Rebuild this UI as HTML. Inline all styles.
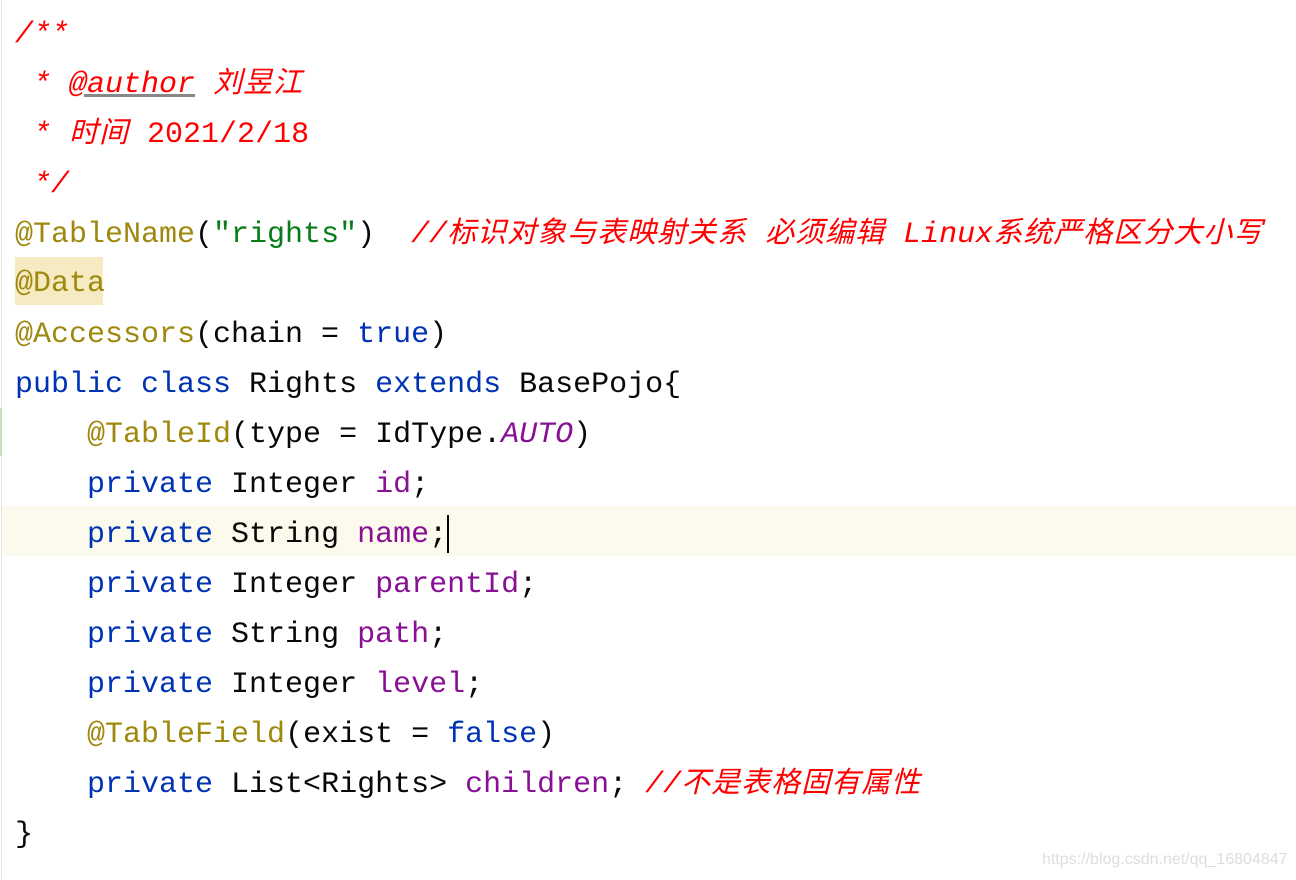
<!DOCTYPE html>
<html><head><meta charset="utf-8"><style>
html,body{margin:0;padding:0;background:#fff;width:1296px;height:880px;overflow:hidden;position:relative}
.l{position:absolute;left:15px;height:50px;line-height:50px;font-family:"Liberation Mono","Noto Sans CJK SC",monospace;font-size:30px;white-space:pre;color:#080808}
.c{color:#f00;font-style:italic}
.cn{font-family:"Noto Sans CJK SC",sans-serif;font-size:29px;letter-spacing:1px;line-height:0}
.a{color:#9e880d}
.s{color:#067d17}
.k{color:#0033b3}
.f{color:#871094}
.hl{position:absolute;left:2px;top:506px;width:1294px;height:50px;background:#fcfaed}
.gut{position:absolute;left:1px;top:0;width:1px;height:880px;background:#e4e4e4}
</style></head><body>
<div class="gut"></div>
<div class="hl"></div>
<div style="position:absolute;left:0;top:408px;width:2px;height:48px;background:#c9dfc4"></div>
<div style="position:absolute;left:15px;top:257px;width:88px;height:48px;background:#f5eac1"></div>
<div class="l c" style="top:10px">/**</div>
<div class="l c" style="top:60px"> * <span style="text-decoration:underline;text-decoration-color:#888">@author</span> <span class="cn">刘昱江</span></div>
<div class="l c" style="top:110px"> * <span class="cn">时间</span> <span style="font-style:normal">2021/2/18</span></div>
<div class="l c" style="top:160px"> */</div>
<div class="l" style="top:210px"><span class="a">@TableName</span>(<span class="s">"rights"</span>)  <span class="c">//<span class="cn">标识对象与表映射关系</span> <span class="cn">必须编辑</span> Linux<span class="cn">系统严格区分大小写</span></span></div>
<div class="l a" style="top:259px">@Data</div>
<div class="l" style="top:310px"><span class="a">@Accessors</span>(chain = <span class="k">true</span>)</div>
<div class="l" style="top:360px"><span class="k">public class</span> Rights <span class="k">extends</span> BasePojo{</div>
<div class="l" style="top:410px">    <span class="a">@TableId</span>(type = IdType.<span class="f" style="font-style:italic">AUTO</span>)</div>
<div class="l" style="top:460px">    <span class="k">private</span> Integer <span class="f">id</span>;</div>
<div class="l" style="top:510px">    <span class="k">private</span> String <span class="f">name</span>;<span style="display:inline-block;width:2px;height:38px;background:#000;vertical-align:middle"></span></div>
<div class="l" style="top:560px">    <span class="k">private</span> Integer <span class="f">parentId</span>;</div>
<div class="l" style="top:610px">    <span class="k">private</span> String <span class="f">path</span>;</div>
<div class="l" style="top:660px">    <span class="k">private</span> Integer <span class="f">level</span>;</div>
<div class="l" style="top:710px">    <span class="a">@TableField</span>(exist = <span class="k">false</span>)</div>
<div class="l" style="top:760px">    <span class="k">private</span> List&lt;Rights&gt; <span class="f">children</span>; <span class="c">//<span class="cn">不是表格固有属性</span></span></div>
<div class="l" style="top:810px">}</div>
<div style="position:absolute;left:1042px;top:851px;font-family:'Liberation Sans',sans-serif;font-size:16px;color:#ddd">https://blog.csdn.net/qq_16804847</div>
</body></html>
